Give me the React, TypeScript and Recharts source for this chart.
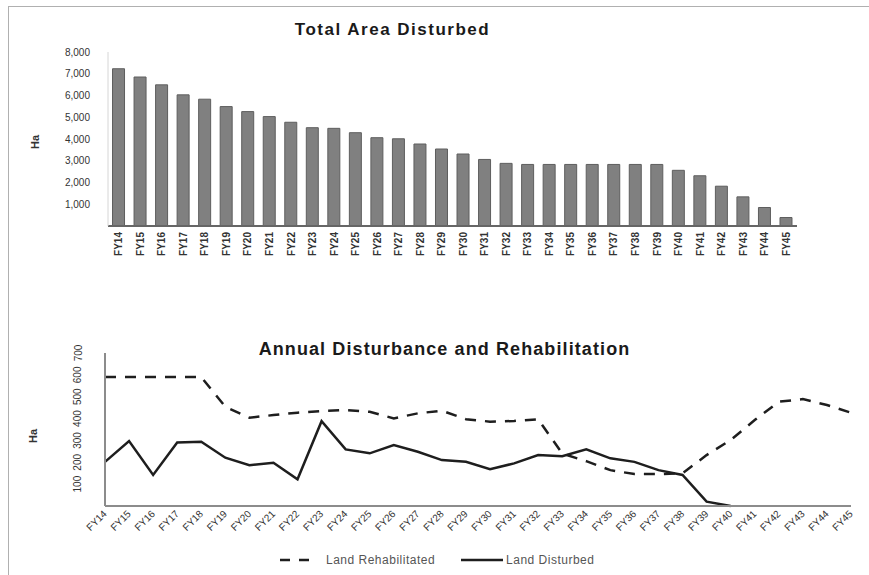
import { BarChart, Bar, LineChart, Line, XAxis, YAxis } from 'recharts'

const font = '"Liberation Sans", Arial, sans-serif'

// top chart: cumulative area disturbed by financial year
const areaYears = [
  'FY14', 'FY15', 'FY16', 'FY17', 'FY18', 'FY19', 'FY20', 'FY21',
  'FY22', 'FY23', 'FY24', 'FY25', 'FY26', 'FY27', 'FY28', 'FY29',
  'FY30', 'FY31', 'FY32', 'FY33', 'FY34', 'FY35', 'FY36', 'FY37',
  'FY38', 'FY39', 'FY40', 'FY41', 'FY42', 'FY43', 'FY44', 'FY45',
]
const totalAreaDisturbed = [
  7230, 6850, 6490, 6030, 5830, 5490, 5260, 5030,
  4770, 4520, 4490, 4290, 4060, 4010, 3770, 3540,
  3310, 3060, 2880, 2830, 2830, 2830, 2830, 2830,
  2830, 2830, 2560, 2310, 1830, 1340, 850, 390,
]
const areaTicks = [1000, 2000, 3000, 4000, 5000, 6000, 7000, 8000]

// bottom chart: annual disturbance vs rehabilitation
const annualYears = [
  'FY14', 'FY15', 'FY16', 'FY17', 'FY18', 'FY19', 'FY20', 'FY21',
  'FY22', 'FY23', 'FY24', 'FY25', 'FY26', 'FY27', 'FY28', 'FY29',
  'FY30', 'FY31', 'FY32', 'FY33', 'FY34', 'FY35', 'FY36', 'FY37',
  'FY38', 'FY39', 'FY40', 'FY41', 'FY42', 'FY43', 'FY44', 'FY45',
]
const landRehabilitated = [
  590, 590, 590, 590, 590, 454, 404, 416,
  427, 434, 439, 431, 401, 424, 436, 397,
  386, 389, 397, 240, 205, 164, 146, 146,
  150, 233, 302, 393, 477, 489, 462, 427,
]
const landDisturbed = [
  202, 297, 142, 291, 294, 221, 187, 198,
  122, 388, 259, 241, 279, 248, 210, 202,
  168, 195, 233, 228, 259, 218, 202, 164,
  142, 20, 0, null, null, null, null, null,
]
const annualTicks = [100, 200, 300, 400, 500, 600, 700]

function RotatedTick({ x, y, payload, angle, anchor = 'end', size = 10, weight = 'normal' }: any) {
  return (
    <text
      x={x}
      y={y}
      transform={`rotate(${angle} ${x} ${y})`}
      textAnchor={anchor}
      dominantBaseline="central"
      fontSize={size}
      fontWeight={weight}
      fontFamily={font}
      fill="#333"
    >
      {payload.value}
    </text>
  )
}

const titleStyle = {
  position: 'absolute' as const,
  left: 0,
  width: '100%',
  textAlign: 'center' as const,
  fontSize: 17,
  fontWeight: 'bold' as const,
  letterSpacing: 1,
  color: '#1a1a1a',
}

const haStyle = {
  position: 'absolute' as const,
  fontSize: 11,
  fontWeight: 'bold' as const,
  color: '#333',
  transform: 'rotate(-90deg)',
}

export default function App() {
  const areaData = areaYears.map((year, i) => ({ year, area: totalAreaDisturbed[i] }))
  const annualData = annualYears.map((year, i) => ({
    year,
    rehabilitated: landRehabilitated[i],
    disturbed: landDisturbed[i],
  }))

  return (
    <div style={{ position: 'absolute', left: 0, top: 0, width: 869, height: 575, overflow: 'hidden', background: '#fff', fontFamily: font }}>
      <div style={{ position: 'absolute', left: 8, top: 6, width: 900, height: 600, border: '1.5px solid #b0b0b0' }} />

      <div style={{ ...titleStyle, top: 20, left: -42, letterSpacing: 1.5 }}>Total Area Disturbed</div>
      <div style={{ ...haStyle, left: 28, top: 136 }}>Ha</div>
      <div style={{ position: 'absolute', left: 0, top: 0 }}>
        <BarChart width={869} height={290} data={areaData} barCategoryGap="21%" margin={{ top: 52, right: 72, bottom: 14, left: 0 }}>
          <XAxis
            dataKey="year"
            interval={0}
            height={50}
            tickSize={0}
            tickMargin={6}
            axisLine={{ stroke: '#666', strokeWidth: 2 }}
            tick={<RotatedTick angle={-90} size={10} weight="bold" />}
          />
          <YAxis
            width={108}
            domain={[0, 8000]}
            ticks={areaTicks}
            interval={0}
            tickSize={0}
            tickMargin={18}
            axisLine={{ stroke: '#d6d6d6' }}
            tickFormatter={(v: number) => v.toLocaleString('en-US')}
            tick={{ fontSize: 10, fill: '#333', fontFamily: font }}
          />
          <Bar dataKey="area" fill="#808080" stroke="#5e5e5e" strokeWidth={1} isAnimationActive={false} />
        </BarChart>
      </div>

      <div style={{ ...titleStyle, top: 339, left: 10, fontSize: 18, letterSpacing: 1.1 }}>Annual Disturbance and Rehabilitation</div>
      <div style={{ ...haStyle, left: 26, top: 430 }}>Ha</div>
      <div style={{ position: 'absolute', left: 0, top: 320 }}>
        <LineChart width={869} height={255} data={annualData} margin={{ top: 33, right: 18, bottom: 19, left: 0 }}>
          <XAxis
            dataKey="year"
            interval={0}
            height={50}
            tickSize={0}
            tickMargin={6}
            axisLine={{ stroke: '#8c8c8c', strokeWidth: 2 }}
            tick={<RotatedTick angle={-45} size={10} />}
          />
          <YAxis
            width={105}
            domain={[0, 700]}
            ticks={annualTicks}
            interval={0}
            tickSize={0}
            tickMargin={27}
            axisLine={{ stroke: '#8c8c8c', strokeWidth: 2 }}
            tick={<RotatedTick angle={-90} anchor="middle" size={10} />}
          />
          <Line
            type="linear"
            dataKey="rehabilitated"
            name="Land Rehabilitated"
            stroke="#1e1e1e"
            strokeWidth={2.5}
            strokeDasharray="11 9"
            dot={false}
            isAnimationActive={false}
          />
          <Line
            type="linear"
            dataKey="disturbed"
            name="Land Disturbed"
            stroke="#1e1e1e"
            strokeWidth={2.5}
            dot={false}
            isAnimationActive={false}
          />
        </LineChart>
      </div>

      <div style={{ position: 'absolute', left: 280, top: 553, display: 'flex', alignItems: 'center', fontSize: 12, color: '#555', letterSpacing: 0.5 }}>
        <svg width={36} height={12}><line x1={0} y1={6} x2={34} y2={6} stroke="#1e1e1e" strokeWidth={2.5} strokeDasharray="10 9" /></svg>
        <span style={{ marginLeft: 10 }}>Land Rehabilitated</span>
        <svg width={42} height={12} style={{ marginLeft: 26 }}><line x1={0} y1={6} x2={42} y2={6} stroke="#1e1e1e" strokeWidth={2.5} /></svg>
        <span style={{ marginLeft: 3 }}>Land Disturbed</span>
      </div>
    </div>
  )
}
